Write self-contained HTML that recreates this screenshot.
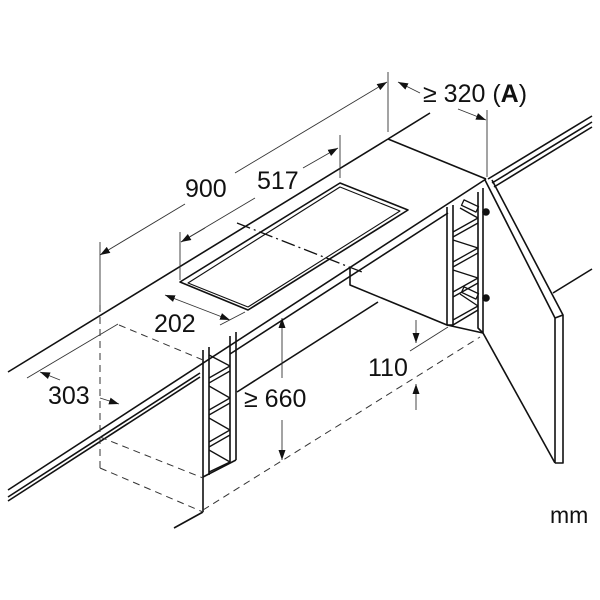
<!DOCTYPE html>
<html><head><meta charset="utf-8"><style>
html,body{margin:0;padding:0;background:#fff;width:600px;height:600px;overflow:hidden}
svg{display:block}
text{font-family:"Liberation Sans",sans-serif;font-size:25px;fill:#111}
</style></head><body>
<svg width="600" height="600" viewBox="0 0 600 600" xmlns="http://www.w3.org/2000/svg">
<defs>
<marker id="ar" viewBox="0 0 10 10" refX="10" refY="5" markerWidth="10" markerHeight="10" orient="auto-start-reverse" markerUnits="userSpaceOnUse"><path d="M0,1.5 L10,5 L0,8.5 z" fill="#111"/></marker>
</defs>
<g stroke="#111" fill="none" stroke-width="1.6" stroke-linejoin="round">
<line x1="8" y1="372" x2="388" y2="139"/>
<line x1="388" y1="139" x2="430" y2="113"/>
<line x1="388" y1="139" x2="486" y2="179"/>
<line x1="8" y1="490" x2="486" y2="179"/>
<line x1="8" y1="497" x2="200" y2="373"/>
<line x1="8" y1="501" x2="200" y2="377"/>
<line x1="230" y1="354" x2="448" y2="213"/>
<line x1="488" y1="179" x2="592" y2="116"/>
<line x1="492" y1="183" x2="592" y2="122"/>
<line x1="494" y1="187" x2="592" y2="127"/>
<polygon points="180,282 248,310 408,210 340,183"/>
<polygon points="188,283 248,307 400,211 340,187" stroke-width="1.1"/>
<polyline points="350,268 350,285 447,325"/>
<line x1="237" y1="392" x2="378" y2="302"/>
<polyline points="447,207 447,325 453,325 453,205"/>
<polyline points="478,192 478,328 483,333 483,188"/>
<line x1="453" y1="325" x2="478" y2="310"/>
<g stroke-width="1.3">
<line x1="453" y1="232" x2="478" y2="218"/><line x1="453" y1="237" x2="478" y2="223"/>
<line x1="453" y1="262" x2="478" y2="248"/><line x1="453" y1="267" x2="478" y2="253"/>
<line x1="453" y1="292" x2="478" y2="278"/><line x1="453" y1="297" x2="478" y2="283"/>
<line x1="453" y1="320" x2="478" y2="306"/>
<polyline points="460,208 478,218"/>
<polyline points="453,240 478,248"/>
<polyline points="453,270 478,278"/>
<polyline points="460,294 478,306"/>
<rect x="462" y="203" width="16" height="6" transform="rotate(25 470 206)"/>
<rect x="462" y="290" width="16" height="6" transform="rotate(25 470 293)"/>
</g>
<circle cx="486" cy="212" r="3" fill="#111"/>
<circle cx="486" cy="298" r="3" fill="#111"/>
<line x1="447" y1="325" x2="483" y2="333"/>
<polyline points="485,180 555,318 555,463"/>
<polyline points="492,180 563,315 563,463 555,463"/>
<line x1="555" y1="318" x2="563" y2="315"/>
<line x1="483" y1="333" x2="555" y2="463"/>
<line x1="553" y1="293" x2="592" y2="269"/>
<polyline points="203,350 203,477"/>
<polyline points="209,347 209,475"/>
<polyline points="230,336 230,462"/>
<polyline points="236,332 236,460"/>
<line x1="203" y1="477" x2="236" y2="460"/>
<g stroke-width="1.3">
<line x1="209" y1="378" x2="230" y2="366"/><line x1="209" y1="383" x2="230" y2="371"/>
<line x1="209" y1="410" x2="230" y2="398"/><line x1="209" y1="415" x2="230" y2="403"/>
<line x1="209" y1="442" x2="230" y2="430"/><line x1="209" y1="447" x2="230" y2="435"/>
<line x1="209" y1="472" x2="230" y2="462"/>
<line x1="209" y1="355" x2="230" y2="366"/>
<line x1="209" y1="386" x2="230" y2="398"/>
<line x1="209" y1="418" x2="230" y2="430"/>
<line x1="209" y1="450" x2="230" y2="462"/>
</g>
<line x1="203" y1="477" x2="203" y2="512"/>
<line x1="174" y1="528" x2="203" y2="512"/>
</g>
<g stroke="#333" fill="none" stroke-width="1" stroke-dasharray="7,5">
<line x1="100" y1="305" x2="100" y2="468"/>
<line x1="100" y1="468" x2="203" y2="512"/>
<line x1="100" y1="437" x2="203" y2="478"/>
<line x1="119" y1="325" x2="203" y2="360"/>
<line x1="203" y1="510" x2="480" y2="337"/>
</g>
<line x1="237" y1="223" x2="362" y2="272" stroke="#111" stroke-width="1.3" stroke-dasharray="14,4,2,4"/>
<g stroke="#333" fill="none" stroke-width="0.9">
<line x1="100" y1="242" x2="100" y2="305"/>
<line x1="388" y1="72" x2="388" y2="132"/>
<line x1="180" y1="232" x2="180" y2="280"/>
<line x1="340" y1="135" x2="340" y2="178"/>
<line x1="487" y1="110" x2="487" y2="177"/>
<line x1="100" y1="255" x2="185" y2="204" marker-start="url(#ar)"/>
<line x1="235" y1="173" x2="387" y2="82" marker-end="url(#ar)"/>
<line x1="181" y1="242" x2="255" y2="198"/>
<line x1="303" y1="168" x2="338" y2="148" marker-end="url(#ar)"/>
<line x1="181" y1="242" x2="205" y2="228" marker-start="url(#ar)"/>
<line x1="398" y1="82" x2="420" y2="93" marker-start="url(#ar)"/>
<line x1="458" y1="109" x2="486" y2="120" marker-end="url(#ar)"/>
<line x1="165" y1="295" x2="230" y2="320" marker-start="url(#ar)" marker-end="url(#ar)"/>
<line x1="220" y1="325" x2="245" y2="312"/>
<line x1="27" y1="378" x2="118" y2="324"/>
<line x1="40" y1="372" x2="60" y2="380" marker-start="url(#ar)"/>
<line x1="100" y1="398" x2="119" y2="404" marker-end="url(#ar)"/>
<line x1="282" y1="318" x2="282" y2="378" marker-start="url(#ar)"/>
<line x1="282" y1="420" x2="282" y2="460" marker-end="url(#ar)"/>
<line x1="410" y1="351" x2="448" y2="327"/>
<line x1="416" y1="320" x2="416" y2="343" marker-end="url(#ar)"/>
<line x1="416" y1="410" x2="416" y2="384" marker-end="url(#ar)"/>
</g>
<text x="185" y="197">900</text>
<text x="257" y="189">517</text>
<text x="423" y="102">≥ 320 (<tspan font-weight="bold">A</tspan>)</text>
<text x="154" y="332">202</text>
<text x="48" y="404">303</text>
<text x="244" y="407">≥ 660</text>
<text x="368" y="376">110</text>
<text x="550" y="523" style="font-size:23px">mm</text>
</svg>
</body></html>
